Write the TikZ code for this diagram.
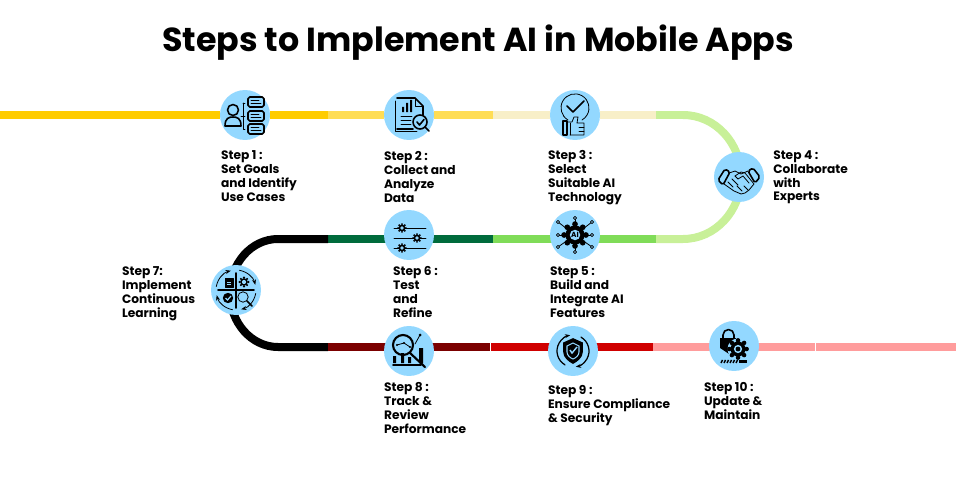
\documentclass[tikz,border=0pt]{standalone}
\usepackage{fontspec}
\setmainfont{Poppins}
\usepackage{xcolor}
\usepackage{tikz}
\usetikzlibrary{arrows.meta, backgrounds, calc}
\definecolor{trackyellow}{HTML}{FFCC00}
\definecolor{tracksun}{HTML}{FFDD55}
\definecolor{trackcream}{HTML}{F8EFC8}
\definecolor{tracklime}{HTML}{C8F098}
\definecolor{trackgreen}{HTML}{80DC58}
\definecolor{trackforest}{HTML}{006B3C}
\definecolor{trackmaroon}{HTML}{7B0000}
\definecolor{trackred}{HTML}{D00000}
\definecolor{trackpink}{HTML}{FF9C9C}
\definecolor{iconblue}{HTML}{93D8FF}
\tikzset{
  track/.style={line width=0.16cm},
  stepdisc/.style={circle, fill=iconblue, minimum size=1cm, inner sep=0pt},
  steplabel/.style={font=\fontsize{6.95}{7.94}\selectfont\bfseries, align=left,
                    anchor=north west, inner sep=0pt},
  ink/.style={draw=black, line width=0.45pt, line join=round, line cap=round},
  inkbold/.style={draw=black, line width=0.9pt, line join=round, line cap=round},
}
%% small cog used by several icons
\newcommand{\cogmark}[3]{%
  \foreach \a in {0,45,...,315}
    \fill[black] ($(#1,#2)+(\a:#3*1.15)$) circle (#3*0.3);
  \fill[black] (#1,#2) circle (#3);
  \fill[iconblue] (#1,#2) circle (#3*0.55);
}
\begin{document}
\begin{tikzpicture}[x=0.02cm, y=-0.02cm]
  \useasboundingbox (0,0) rectangle (956,500);
  \node[font=\fontsize{18.95}{24}\selectfont\bfseries, inner sep=0pt] (title) at (478,43)
    {Steps to Implement AI in Mobile Apps};

  %% discs and labels: name / disc x,y / label x,y / text
  \foreach \nm/\cx/\cy/\lx/\ly/\lbl in {
      stepa/245/115/220.7/150/{Step 1 :\\Set Goals\\and Identify\\Use Cases},
      stepb/409/115/383.7/151/{Step 2 :\\Collect and\\Analyze\\Data},
      stepc/575/115/547.7/150/{Step 3 :\\Select\\Suitable AI\\Technology},
      stepd/739/177/772.9/150/{Step 4 :\\Collaborate\\with\\Experts},
      stepe/575/235/549.7/266/{Step 5 :\\Build and\\Integrate AI\\Features},
      stepf/409/235/392.7/266/{Step 6 :\\Test\\and\\Refine},
      stepg/236/290/121.7/266/{Step 7:\\Implement\\Continuous\\Learning},
      steph/409/351/383.7/382/{Step 8 :\\Track \&\\Review\\Performance},
      stepi/573/351/547.7/385/{Step 9 :\\Ensure Compliance\\\& Security},
      stepj/734/346/703.7/382/{Step 10 :\\Update \&\\Maintain}} {
    \node[stepdisc] (\nm) at (\cx,\cy) {};
    \node[steplabel] (\nm label) at (\lx,\ly) {\lbl};
  }

  %% track joints
  \coordinate (jstart) at (0,115);
  \coordinate (jab) at (328,115);
  \coordinate (jbc) at (493,115);
  \coordinate (jcd) at (656,115);
  \coordinate (jde) at (656,239);
  \coordinate (jef) at (493,239);
  \coordinate (jfg) at (328,239);
  \coordinate (jgh) at (328,347);
  \coordinate (jhi) at (490,347);
  \coordinate (jij) at (653,347);
  \coordinate (jsplit) at (815,347);
  \coordinate (jend) at (956,347);

  \begin{scope}[on background layer]
    \draw[track, trackyellow] (jstart) -- (stepa) -- (jab);
    \draw[track, tracksun] (jab) -- (stepb) -- (jbc);
    \draw[track, trackcream] (jbc) -- (stepc) -- (jcd);
    \draw[track, tracklime] (jcd) -- (683,115) arc[start angle=-90, end angle=90, x radius=58, y radius=62] -- (jde);
    \draw[track, trackgreen] (jde) -- (jef);
    \draw[track, trackforest] (jef) -- (jfg);
    \draw[track, black] (jfg) -- (278,239) arc[start angle=-90, end angle=-270, x radius=48, y radius=54] -- (jgh);
    \draw[track, trackmaroon] (jgh) -- (jhi);
    \draw[track, trackred] (jhi) -- (jij);
    \draw[track, trackpink] (jij) -- (jsplit);
    \draw[track, trackpink] (jsplit) -- (jend);
    \draw[white, line width=0.3pt] (jhi) ++(0,-4) -- ++(0,8);
    \draw[white, line width=0.3pt] (jsplit) ++(0,-4) -- ++(0,8);
  \end{scope}

  %% icon 1: person and three note boxes
  \begin{scope}[shift={(stepa.center)}]
    \draw[inkbold] (-12,-5) circle (5.5);
    \draw[inkbold] (-20,11) .. controls (-20,3) and (-16,2) .. (-12,2) .. controls (-8,2) and (-4,3) .. (-4,11) -- cycle;
    \draw[ink] (-2,-12) -- (0,-12) (-2,-12) -- (-2,14) -- (0,14) (-4,1) -- (0,1);
    \foreach \y in {-18,-4,9} {
      \draw[inkbold, rounded corners=1] (3,\y) rectangle (19,\y+10);
      \draw[ink] (6,\y+3) -- (14,\y+3) (6,\y+6) -- (16,\y+6);
    }
  \end{scope}

  %% icon 2: report with chart and magnifier
  \begin{scope}[shift={(stepb.center)}]
    \draw[ink] (-14,-14) -- (-14,16) -- (8,16);
    \draw[inkbold] (-12,-17) -- (6,-17) -- (14,-9) -- (14,0) (4,14) -- (-12,14) -- cycle;
    \draw[ink] (6,-17) -- (6,-9) -- (14,-9);
    \fill[black] (-7,-3) rectangle (-5,-8) (-3,-3) rectangle (-1,-12) (1,-3) rectangle (3,-15);
    \draw[ink] (-8,1) -- (3,1) (-8,5) -- (2,5) (-8,9) -- (2,9);
    \draw[inkbold] (11,7) circle (7);
    \draw[inkbold] (8,7) -- (10.5,10) -- (15,4.5) (16,12) -- (20,16);
  \end{scope}

  %% icon 3: check bubble over thumb
  \begin{scope}[shift={(stepc.center)}]
    \draw[ink] (-7,5) arc[start angle=120, end angle=420, radius=14];
    \draw[inkbold] (-8,-9) -- (-2,-3) -- (9,-14);
    \draw[inkbold] (-12,6) rectangle (-8,20);
    \draw[ink] (-8,7) -- (-3,7) -- (-1,2) -- (3,2) -- (2,8) -- (9,8) -- (9,20) -- (-5,20);
    \draw[ink] (4,12) -- (9,12) (4,16) -- (9,16);
    \draw[ink] (-5,8) -- (-5,20);
  \end{scope}

  %% icon 4: handshake
  \begin{scope}[shift={(stepd.center)}]
    \draw[inkbold, rounded corners=1] (-21,3) -- (-14,-8) -- (-9,-5) -- (-16,8) -- cycle;
    \draw[inkbold, rounded corners=1] (21,0) -- (14,-9) -- (9,-6) -- (16,6) -- cycle;
    \draw[ink] (-10,-4) -- (-4,-6) -- (2,-3) -- (9,-6);
    \draw[ink] (-4,-1) -- (2,-5) -- (6,-4) -- (15,7) -- (10,13) -- (6,16) -- (2,17) -- (-5,14) -- (-15,7);
    \draw[ink] (-4,-1) -- (-1,2) -- (4,-1) -- (10,6);
    \draw[ink] (-11,5) -- (-6,10) (-7,2) -- (-1,8) (-2,9) -- (3,14) (5,9) -- (9,13);
  \end{scope}

  %% icon 5: AI gear with circuit leads
  \begin{scope}[shift={(stepe.center)}]
    \foreach \ex/\ey in {0/-17, -17/-13, 17/-13, -17/0, 17/0, -17/12, 17/12, 0/17} {
      \draw[ink] (0,0) -- (\ex,\ey);
      \filldraw[fill=iconblue, ink] (\ex,\ey) circle (1.6);
    }
    \cogmark{0}{0}{9.5}
    \node[font=\fontsize{4.2}{5}\selectfont\bfseries, inner sep=0pt] (aitag) at (0,0) {AI};
  \end{scope}

  %% icon 6: sliders with cogs
  \begin{scope}[shift={(stepf.center)}]
    \foreach \y in {-7,3,13} \draw[ink] (-15,\y) -- (17,\y);
    \cogmark{-7}{-7}{3.4}
    \cogmark{8}{3}{3.4}
    \cogmark{-7}{13}{3.4}
  \end{scope}

  %% icon 7: four quadrants in a ring of arrows
  \begin{scope}[shift={(stepg.center)}]
    \draw[inkbold] (-18,0) -- (18,0) (0,-17) -- (0,18);
    \foreach \s in {-80,10,100,190}
      \draw[ink, -{Stealth[length=3pt]}] (\s:20) arc[start angle=\s, end angle=\s+65, radius=20];
    \draw[ink, fill=black] (-11,-12) rectangle (-3,-3);
    \draw[iconblue, line width=0.4pt] (-9,-8) -- (-5,-8) (-9,-6) -- (-5,-6);
    \cogmark{8}{-8}{3.8}
    \fill[black] (-8,8) circle (5.2);
    \draw[iconblue, line width=0.7pt] (-10.5,8) -- (-8.5,10) -- (-5,6);
    \draw[ink] (7,7) circle (5.2);
    \draw[inkbold] (11,11) -- (16,16);
  \end{scope}

  %% icon 8: magnifier over bars
  \begin{scope}[shift={(steph.center)}]
    \draw[inkbold] (-16,14) -- (12,14);
    \fill[black] (-16,5) rectangle (-13,12) (-8,2) rectangle (-5,12) (-1,6) rectangle (2,12) (10,-3) rectangle (14,12);
    \draw[line width=1.2pt, line cap=round] (-6,-6) circle (10) (1,2) -- (16,16);
    \fill[black] (11,-16) circle (1.5) (-12,-6) circle (1.2) (-5,-8) circle (1.2) (1,-4) circle (1.2);
    \draw[ink] (-12,-6) -- (-5,-8) -- (1,-4) (6,-7) -- (11,-16);
  \end{scope}

  %% icon 9: shield with turning arrows
  \begin{scope}[shift={(stepi.center)}]
    \draw[line width=0.9pt, fill=black] (0,-12) -- (9,-8) -- (9,1) .. controls (9,6) and (4,10) .. (0,12) .. controls (-4,10) and (-9,6) .. (-9,1) -- (-9,-8) -- cycle;
    \draw[iconblue, line width=0.6pt] (0,-8) -- (6,-5) -- (6,1) .. controls (6,4) and (3,7) .. (0,8) .. controls (-3,7) and (-6,4) .. (-6,1) -- (-6,-5) -- cycle;
    \draw[iconblue, line width=0.8pt] (-3,-1) -- (-1,2) -- (4,-4);
    \draw[ink, line width=0.7pt, -{Stealth[length=3pt]}] (-60:16) arc[start angle=-60, end angle=80, radius=16];
    \draw[ink, line width=0.7pt, -{Stealth[length=3pt]}] (120:16) arc[start angle=120, end angle=260, radius=16];
  \end{scope}

  %% icon 10: padlock, cog and progress bar
  \begin{scope}[shift={(stepj.center)}]
    \draw[inkbold] (-11,-8) -- (-11,-11) arc[start angle=180, end angle=360, radius=5.5] -- (0,-8);
    \fill[black] (-14,-8) rectangle (2,2) (-14,2) -- (-2,2) -- (-5,8) -- cycle;
    \fill[iconblue] (4,3) circle (10.5);
    \cogmark{4}{3}{7.5}
    \fill[black] (4,3) circle (2.4);
    \fill[black] (5,14) rectangle (13,17);
    \foreach \x in {-13,-10,...,2}
      \draw[line width=0.8pt] (\x,17) -- (\x+1.5,14);
  \end{scope}
\end{tikzpicture}
\end{document}
